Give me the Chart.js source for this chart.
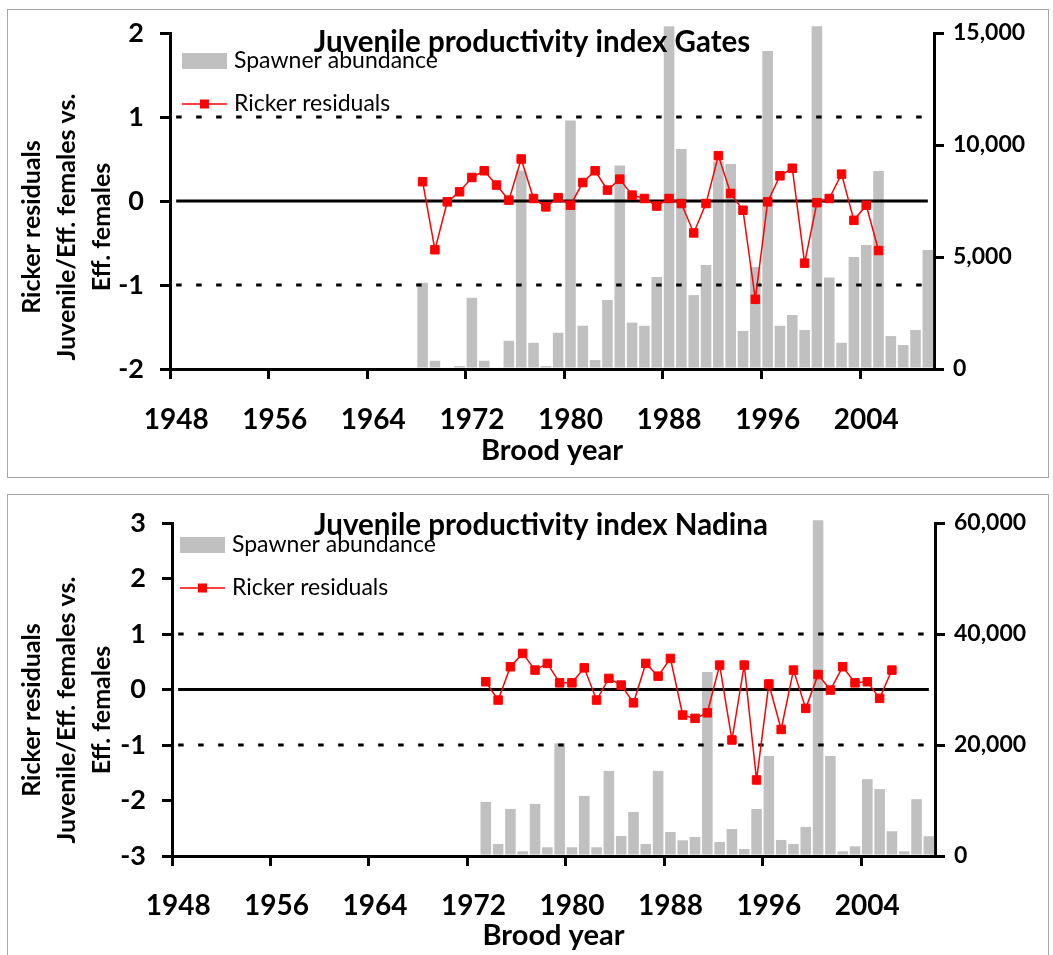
<!DOCTYPE html>
<html>
<head>
<meta charset="utf-8">
<script src="https://cdn.jsdelivr.net/npm/chart.js@4/dist/chart.umd.min.js"></script>
<style>
  body { margin: 0; background: #fff; }
  .panel { position: absolute; left: 7px; width: 1040px; border: 1px solid #a6a6a6; background: #fff; }
</style>
</head>
<body>
<div class="panel" style="top:9px;height:467px"><canvas id="gates" width="1040" height="467"></canvas></div>
<div class="panel" style="top:494px;height:470px"><canvas id="nadina" width="1040" height="470"></canvas></div>
<script>
// categories
const years = [
  1948, 1949, 1950, 1951, 1952, 1953, 1954, 1955, 1956, 1957, 1958, 1959, 1960,
  1961, 1962, 1963, 1964, 1965, 1966, 1967, 1968, 1969, 1970, 1971, 1972, 1973,
  1974, 1975, 1976, 1977, 1978, 1979, 1980, 1981, 1982, 1983, 1984, 1985, 1986,
  1987, 1988, 1989, 1990, 1991, 1992, 1993, 1994, 1995, 1996, 1997, 1998, 1999,
  2000, 2001, 2002, 2003, 2004, 2005, 2006, 2007, 2008, 2009,
];
const xTickYears = [1948, 1956, 1964, 1972, 1980, 1988, 1996, 2004];

// Gates: spawners from 1968, residuals from 1968
const gatesSpawners = [
  3850, 370, 0, 130, 3180, 370, 0, 1260, 8850, 1170, 130, 1620, 11090, 1930,
  400, 3080, 9080, 2070, 1930, 4110, 15300, 9820, 3300, 4640, 9260, 9150, 1700,
  4550, 14200, 1930, 2410, 1740, 15300, 4080, 1170, 5000, 5540, 8840, 1470,
  1070, 1740, 5310,
];
const gatesResiduals = [
  0.23, -0.58, -0.01, 0.11, 0.28, 0.36, 0.19, 0.01, 0.5, 0.03, -0.07, 0.04,
  -0.05, 0.22, 0.36, 0.13, 0.26, 0.07, 0.03, -0.06, 0.03, -0.03, -0.38, -0.03,
  0.54, 0.09, -0.11, -1.17, -0.01, 0.3, 0.39, -0.74, -0.02, 0.03, 0.32, -0.23,
  -0.05, -0.59,
];
const gatesLeftTicks = [-2, -1, 0, 1, 2];
const gatesRightTicks = [0, 5000, 10000, 15000];

// Nadina: spawners from 1973, residuals from 1973
const nadinaSpawners = [
  9750, 2170, 8480, 850, 9390, 1570, 20300, 1570, 10830, 1570, 15340, 3610,
  7940, 2170, 15340, 4330, 2830, 3430, 33160, 2530, 4870, 1260, 8480, 18000,
  2890, 2170, 5240, 60500, 18000, 850, 1750, 13850, 12040, 4460, 850, 10240,
  3560,
];
const nadinaResiduals = [
  0.14, -0.19, 0.41, 0.65, 0.35, 0.47, 0.12, 0.12, 0.39, -0.19, 0.2, 0.08,
  -0.24, 0.47, 0.24, 0.56, -0.46, -0.52, -0.42, 0.44, -0.91, 0.44, -1.63, 0.1,
  -0.72, 0.35, -0.34, 0.27, -0.01, 0.41, 0.12, 0.14, -0.16, 0.35,
];
const nadinaLeftTicks = [-3, -2, -1, 0, 1, 2, 3];
const nadinaRightTicks = [0, 20000, 40000, 60000];

const refLines = [1, 0, -1];

const FONT = "Lato, 'Open Sans', sans-serif";

// put a series that starts at startYear onto the full year axis
function pad(startYear, values) {
  return years.map((y) => {
    const i = y - startYear;
    return i >= 0 && i < values.length ? values[i] : null;
  });
}

// reference lines, title, rotated y title and legend
const panelDecor = {
  id: "panelDecor",
  afterDatasetDraw(chart, args, opts) {
    if (args.index !== 0) return;
    const ctx = chart.ctx;
    const x = chart.scales.x;
    const y = chart.scales.yL;
    const x0 = x.getPixelForValue(0);
    const x1 = x.getPixelForValue(years.length - 1);
    ctx.save();
    ctx.strokeStyle = "#000";
    ctx.lineWidth = 3;
    refLines.forEach((v) => {
      ctx.setLineDash(v === 0 ? [] : [5.5, 14.5]);
      const py = y.getPixelForValue(v);
      ctx.beginPath();
      ctx.moveTo(x0, py);
      ctx.lineTo(x1, py);
      ctx.stroke();
    });
    ctx.restore();
  },
  afterDraw(chart, args, opts) {
    const ctx = chart.ctx;
    const area = chart.chartArea;
    ctx.save();
    ctx.fillStyle = "#000";
    ctx.textBaseline = "middle";

    // title
    ctx.textAlign = "center";
    ctx.font = "bold 29.5px " + FONT;
    ctx.fillText(opts.title, opts.titleX, opts.titleY);

    // y title, three rotated lines
    ctx.font = "bold 25px " + FONT;
    opts.yTitle.forEach((line, i) => {
      ctx.save();
      ctx.translate(opts.yTitleX[i], opts.yTitleY);
      ctx.rotate(-Math.PI / 2);
      ctx.fillText(line, 0, 0);
      ctx.restore();
    });

    // legend inside the plot
    const bar = chart.data.datasets[0];
    const line = chart.data.datasets[1];
    const lx = area.left + opts.legendLeft;
    const ly = area.top + opts.legendTop;
    ctx.fillStyle = bar.backgroundColor;
    ctx.fillRect(lx, ly - 8, 45, 16);
    ctx.strokeStyle = line.borderColor;
    ctx.lineWidth = 1.5;
    ctx.beginPath();
    ctx.moveTo(lx, ly + opts.legendGap);
    ctx.lineTo(lx + 45, ly + opts.legendGap);
    ctx.stroke();
    ctx.fillStyle = line.pointBackgroundColor;
    ctx.fillRect(lx + 18, ly + opts.legendGap - 4.5, 9, 9);
    ctx.fillStyle = "#000";
    ctx.textAlign = "left";
    ctx.font = "23px " + FONT;
    ctx.fillText(bar.label, lx + 52, ly);
    ctx.fillText(line.label, lx + 52, ly + opts.legendGap);
    ctx.restore();
  },
};

function makePanel(id, cfg) {
  const canvas = document.getElementById(id);
  const H = canvas.height;
  const W = canvas.width;
  const tickFont = { family: FONT, size: 27, weight: "bold" };

  new Chart(canvas, {
    type: "bar",
    data: {
      labels: years,
      datasets: [
        {
          type: "bar",
          label: "Spawner abundance",
          data: pad(cfg.spawnStart, cfg.spawners),
          yAxisID: "yR",
          backgroundColor: "#C0C0C0",
          categoryPercentage: 0.86,
          barPercentage: 1,
          order: 2,
          clip: false,
        },
        {
          type: "line",
          label: "Ricker residuals",
          data: pad(cfg.residStart, cfg.residuals),
          yAxisID: "yL",
          borderColor: "#FF0000",
          borderWidth: 1.5,
          pointStyle: "rect",
          pointRadius: 6,
          pointBorderWidth: 1,
          pointBackgroundColor: "#FF0000",
          pointBorderColor: "#FF0000",
          tension: 0,
          order: 1,
        },
      ],
    },
    options: {
      responsive: false,
      animation: false,
      devicePixelRatio: 1,
      layout: { padding: { top: cfg.area.top, left: 0, right: 0, bottom: cfg.padBottom } },
      scales: {
        x: {
          afterFit: (s) => { s.height = H - cfg.area.bottom - cfg.padBottom; },
          grid: {
            offset: true,
            drawOnChartArea: false,
            tickLength: 10,
            lineWidth: 3,
            color: (c) => (xTickYears.includes(years[c.index]) ? "#000" : "rgba(0,0,0,0)"),
          },
          border: { color: "#000", width: 3 },
          ticks: {
            autoSkip: false,
            maxRotation: 0,
            padding: cfg.xTickPad,
            color: "#000",
            font: { family: FONT, size: 28, weight: "bold" },
            callback: (v, i) => (xTickYears.includes(years[i]) ? String(years[i]) : ""),
          },
          title: {
            display: true,
            text: "Brood year",
            color: "#000",
            font: { family: FONT, size: 29, weight: "bold" },
            padding: { top: 0, bottom: 9 },
          },
        },
        yL: {
          position: "left",
          min: cfg.leftTicks[0],
          max: cfg.leftTicks[cfg.leftTicks.length - 1],
          afterBuildTicks: (s) => { s.ticks = cfg.leftTicks.map((v) => ({ value: v })); },
          afterFit: (s) => { s.width = cfg.area.left; s.paddingTop = 0; s.paddingBottom = 0; },
          grid: { drawOnChartArea: false, tickLength: 10, lineWidth: 3, color: "#000" },
          border: { color: "#000", width: 3 },
          ticks: { padding: 16, color: "#000", font: tickFont },
        },
        yR: {
          position: "right",
          min: 0,
          max: cfg.rightTicks[cfg.rightTicks.length - 1],
          afterBuildTicks: (s) => { s.ticks = cfg.rightTicks.map((v) => ({ value: v })); },
          afterFit: (s) => { s.width = W - cfg.area.right; s.paddingTop = 0; s.paddingBottom = 0; },
          grid: { drawOnChartArea: false, tickLength: 10, lineWidth: 3, color: "#000" },
          border: { color: "#000", width: 3 },
          ticks: {
            padding: 9,
            color: "#000",
            font: { family: FONT, size: 23, weight: "bold" },
            callback: (v) => v.toLocaleString("en-US"),
          },
        },
      },
      plugins: {
        legend: { display: false },
        tooltip: { enabled: false },
        panelDecor: {
          title: cfg.title,
          titleX: cfg.titleX,
          titleY: cfg.titleY,
          yTitle: ["Ricker residuals", "Juvenile/Eff. females vs.", "Eff. females"],
          yTitleX: [24, 59, 94],
          yTitleY: cfg.yTitleY,
          legendLeft: cfg.legendLeft,
          legendTop: cfg.legendTop,
          legendGap: 43,
        },
      },
    },
    plugins: [panelDecor],
  });
}

makePanel("gates", {
  title: "Juvenile productivity index Gates",
  titleX: 524,
  titleY: 32,
  yTitleY: 217,
  spawnStart: 1968,
  spawners: gatesSpawners,
  residStart: 1968,
  residuals: gatesResiduals,
  leftTicks: gatesLeftTicks,
  rightTicks: gatesRightTicks,
  area: { left: 162, right: 926, top: 23, bottom: 359 },
  padBottom: 0,
  xTickPad: 24,
  legendLeft: 12,
  legendTop: 28,
});

makePanel("nadina", {
  title: "Juvenile productivity index Nadina",
  titleX: 533,
  titleY: 30,
  yTitleY: 215,
  spawnStart: 1973,
  spawners: nadinaSpawners,
  residStart: 1973,
  residuals: nadinaResiduals,
  leftTicks: nadinaLeftTicks,
  rightTicks: nadinaRightTicks,
  area: { left: 164, right: 927, top: 28, bottom: 361 },
  padBottom: 3,
  xTickPad: 23,
  legendLeft: 8,
  legendTop: 22,
});
</script>
</body>
</html>
